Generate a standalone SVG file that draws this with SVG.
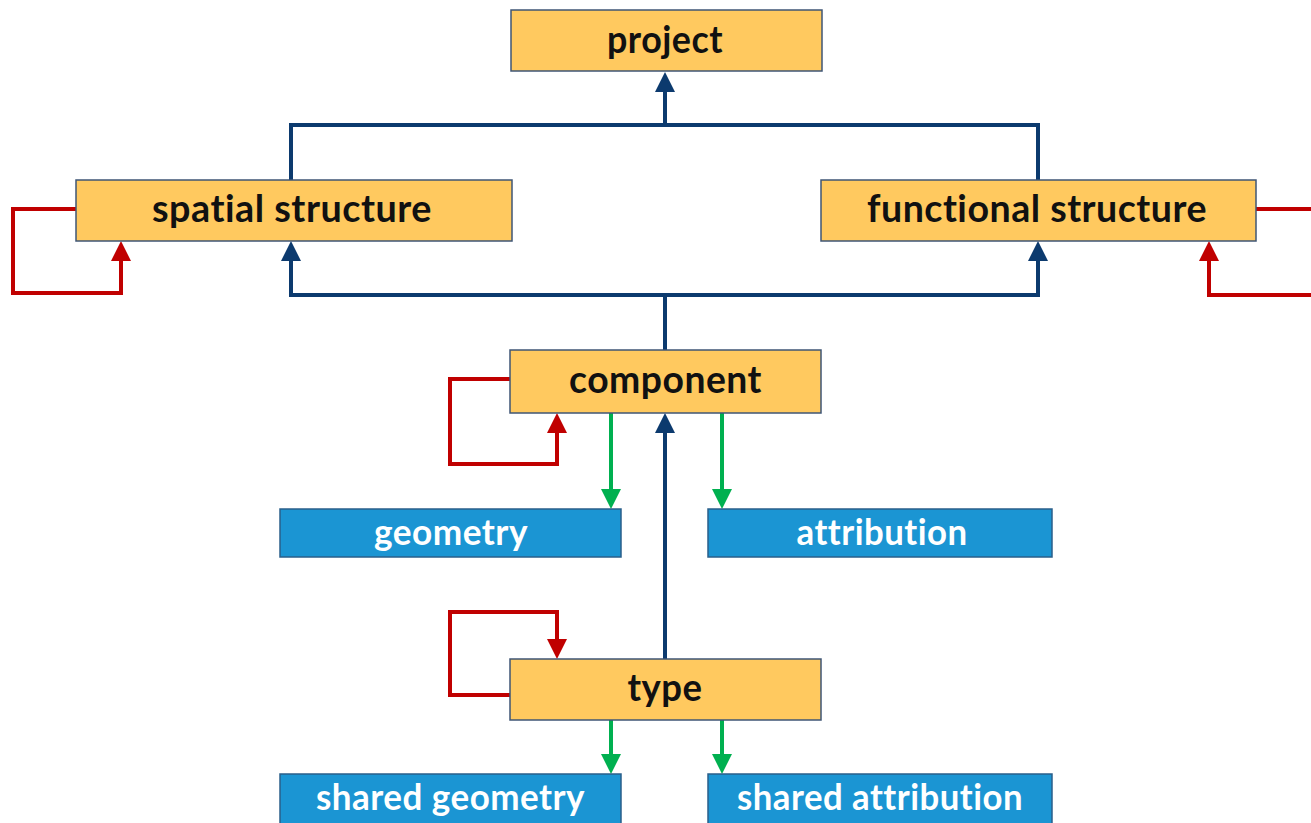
<svg xmlns="http://www.w3.org/2000/svg" width="1311" height="823" viewBox="0 0 1311 823">
  <style>
    .orange rect { fill: #FFC95F; stroke: #3F5675; stroke-width: 1.5; }
    .blue rect { fill: #1B95D3; stroke: #2A5F8A; stroke-width: 1.5; }
    text { font-variant-ligatures: none; font-feature-settings: "liga" 0, "clig" 0; letter-spacing: 0.5px; }
    .orange text { font-family: Lato, "Liberation Sans", sans-serif; font-weight: bold; font-size: 38px; fill: #111111; text-anchor: middle; }
    .blue text { font-family: Lato, "Liberation Sans", sans-serif; font-weight: bold; font-size: 36px; fill: #FFFFFF; text-anchor: middle; }
    .c { fill: none; stroke-width: 4; stroke-linejoin: miter; }
    .dk { stroke: #0C3A6E; }
    .rd { stroke: #C00000; }
    .gr { stroke: #00B050; }
  </style>
  <defs>
    <marker id="aDk" markerUnits="userSpaceOnUse" viewBox="0 0 20 20" refX="14" refY="10" markerWidth="20" markerHeight="20" orient="auto">
      <path d="M0,0 L20,10 L0,20 Z" fill="#0C3A6E"/>
    </marker>
    <marker id="aRd" markerUnits="userSpaceOnUse" viewBox="0 0 20 20" refX="14" refY="10" markerWidth="20" markerHeight="20" orient="auto">
      <path d="M0,0 L20,10 L0,20 Z" fill="#C00000"/>
    </marker>
    <marker id="aGr" markerUnits="userSpaceOnUse" viewBox="0 0 20 20" refX="14" refY="10" markerWidth="20" markerHeight="20" orient="auto">
      <path d="M0,0 L20,10 L0,20 Z" fill="#00B050"/>
    </marker>
  </defs>

  <g id="connectors">
    <!-- structures to project -->
    <path class="c dk" d="M291,180 V125 H1038 V180"/>
    <path class="c dk" d="M665,125 V78" marker-end="url(#aDk)"/>
    <!-- component to structures -->
    <path class="c dk" d="M665,350 V295"/>
    <path class="c dk" d="M665,295 H291 V247" marker-end="url(#aDk)"/>
    <path class="c dk" d="M665,295 H1038 V247" marker-end="url(#aDk)"/>
    <!-- type to component -->
    <path class="c dk" d="M665,659 V419" marker-end="url(#aDk)"/>
    <!-- self loops -->
    <path class="c rd" d="M76,209 H13 V293 H121 V247" marker-end="url(#aRd)"/>
    <path class="c rd" d="M1256,209 H1315"/>
    <path class="c rd" d="M1315,295 H1209 V247" marker-end="url(#aRd)"/>
    <path class="c rd" d="M510,379 H450 V464 H557 V419" marker-end="url(#aRd)"/>
    <path class="c rd" d="M510,695 H450 V612 H557 V653" marker-end="url(#aRd)"/>
    <!-- attributes -->
    <path class="c gr" d="M611,413 V503" marker-end="url(#aGr)"/>
    <path class="c gr" d="M722,413 V503" marker-end="url(#aGr)"/>
    <path class="c gr" d="M611,720 V768" marker-end="url(#aGr)"/>
    <path class="c gr" d="M722,720 V768" marker-end="url(#aGr)"/>
  </g>

  <g id="project" class="orange">
    <rect x="511" y="10" width="311" height="61"/>
    <text x="665" y="53" textLength="116" lengthAdjust="spacingAndGlyphs">project</text>
  </g>
  <g id="spatial-structure" class="orange">
    <rect x="76" y="180" width="436" height="61"/>
    <text x="292" y="222" textLength="280" lengthAdjust="spacingAndGlyphs">spatial structure</text>
  </g>
  <g id="functional-structure" class="orange">
    <rect x="821" y="180" width="435" height="61"/>
    <text x="1037" y="222" textLength="340" lengthAdjust="spacingAndGlyphs">functional structure</text>
  </g>
  <g id="component" class="orange">
    <rect x="510" y="350" width="311" height="63"/>
    <text x="665.5" y="393" textLength="193" lengthAdjust="spacingAndGlyphs">component</text>
  </g>
  <g id="geometry" class="blue">
    <rect x="280" y="509" width="341" height="48"/>
    <text x="451" y="545" textLength="154" lengthAdjust="spacingAndGlyphs">geometry</text>
  </g>
  <g id="attribution" class="blue">
    <rect x="708" y="509" width="344" height="48"/>
    <text x="882" y="545" textLength="171" lengthAdjust="spacingAndGlyphs">attribution</text>
  </g>
  <g id="type" class="orange">
    <rect x="510" y="659" width="311" height="61"/>
    <text x="665" y="701" textLength="75" lengthAdjust="spacingAndGlyphs">type</text>
  </g>
  <g id="shared-geometry" class="blue">
    <rect x="280" y="774" width="341" height="52"/>
    <text x="450.5" y="810" textLength="269" lengthAdjust="spacingAndGlyphs">shared geometry</text>
  </g>
  <g id="shared-attribution" class="blue">
    <rect x="708" y="774" width="344" height="52"/>
    <text x="880" y="810" textLength="286" lengthAdjust="spacingAndGlyphs">shared attribution</text>
  </g>
</svg>
